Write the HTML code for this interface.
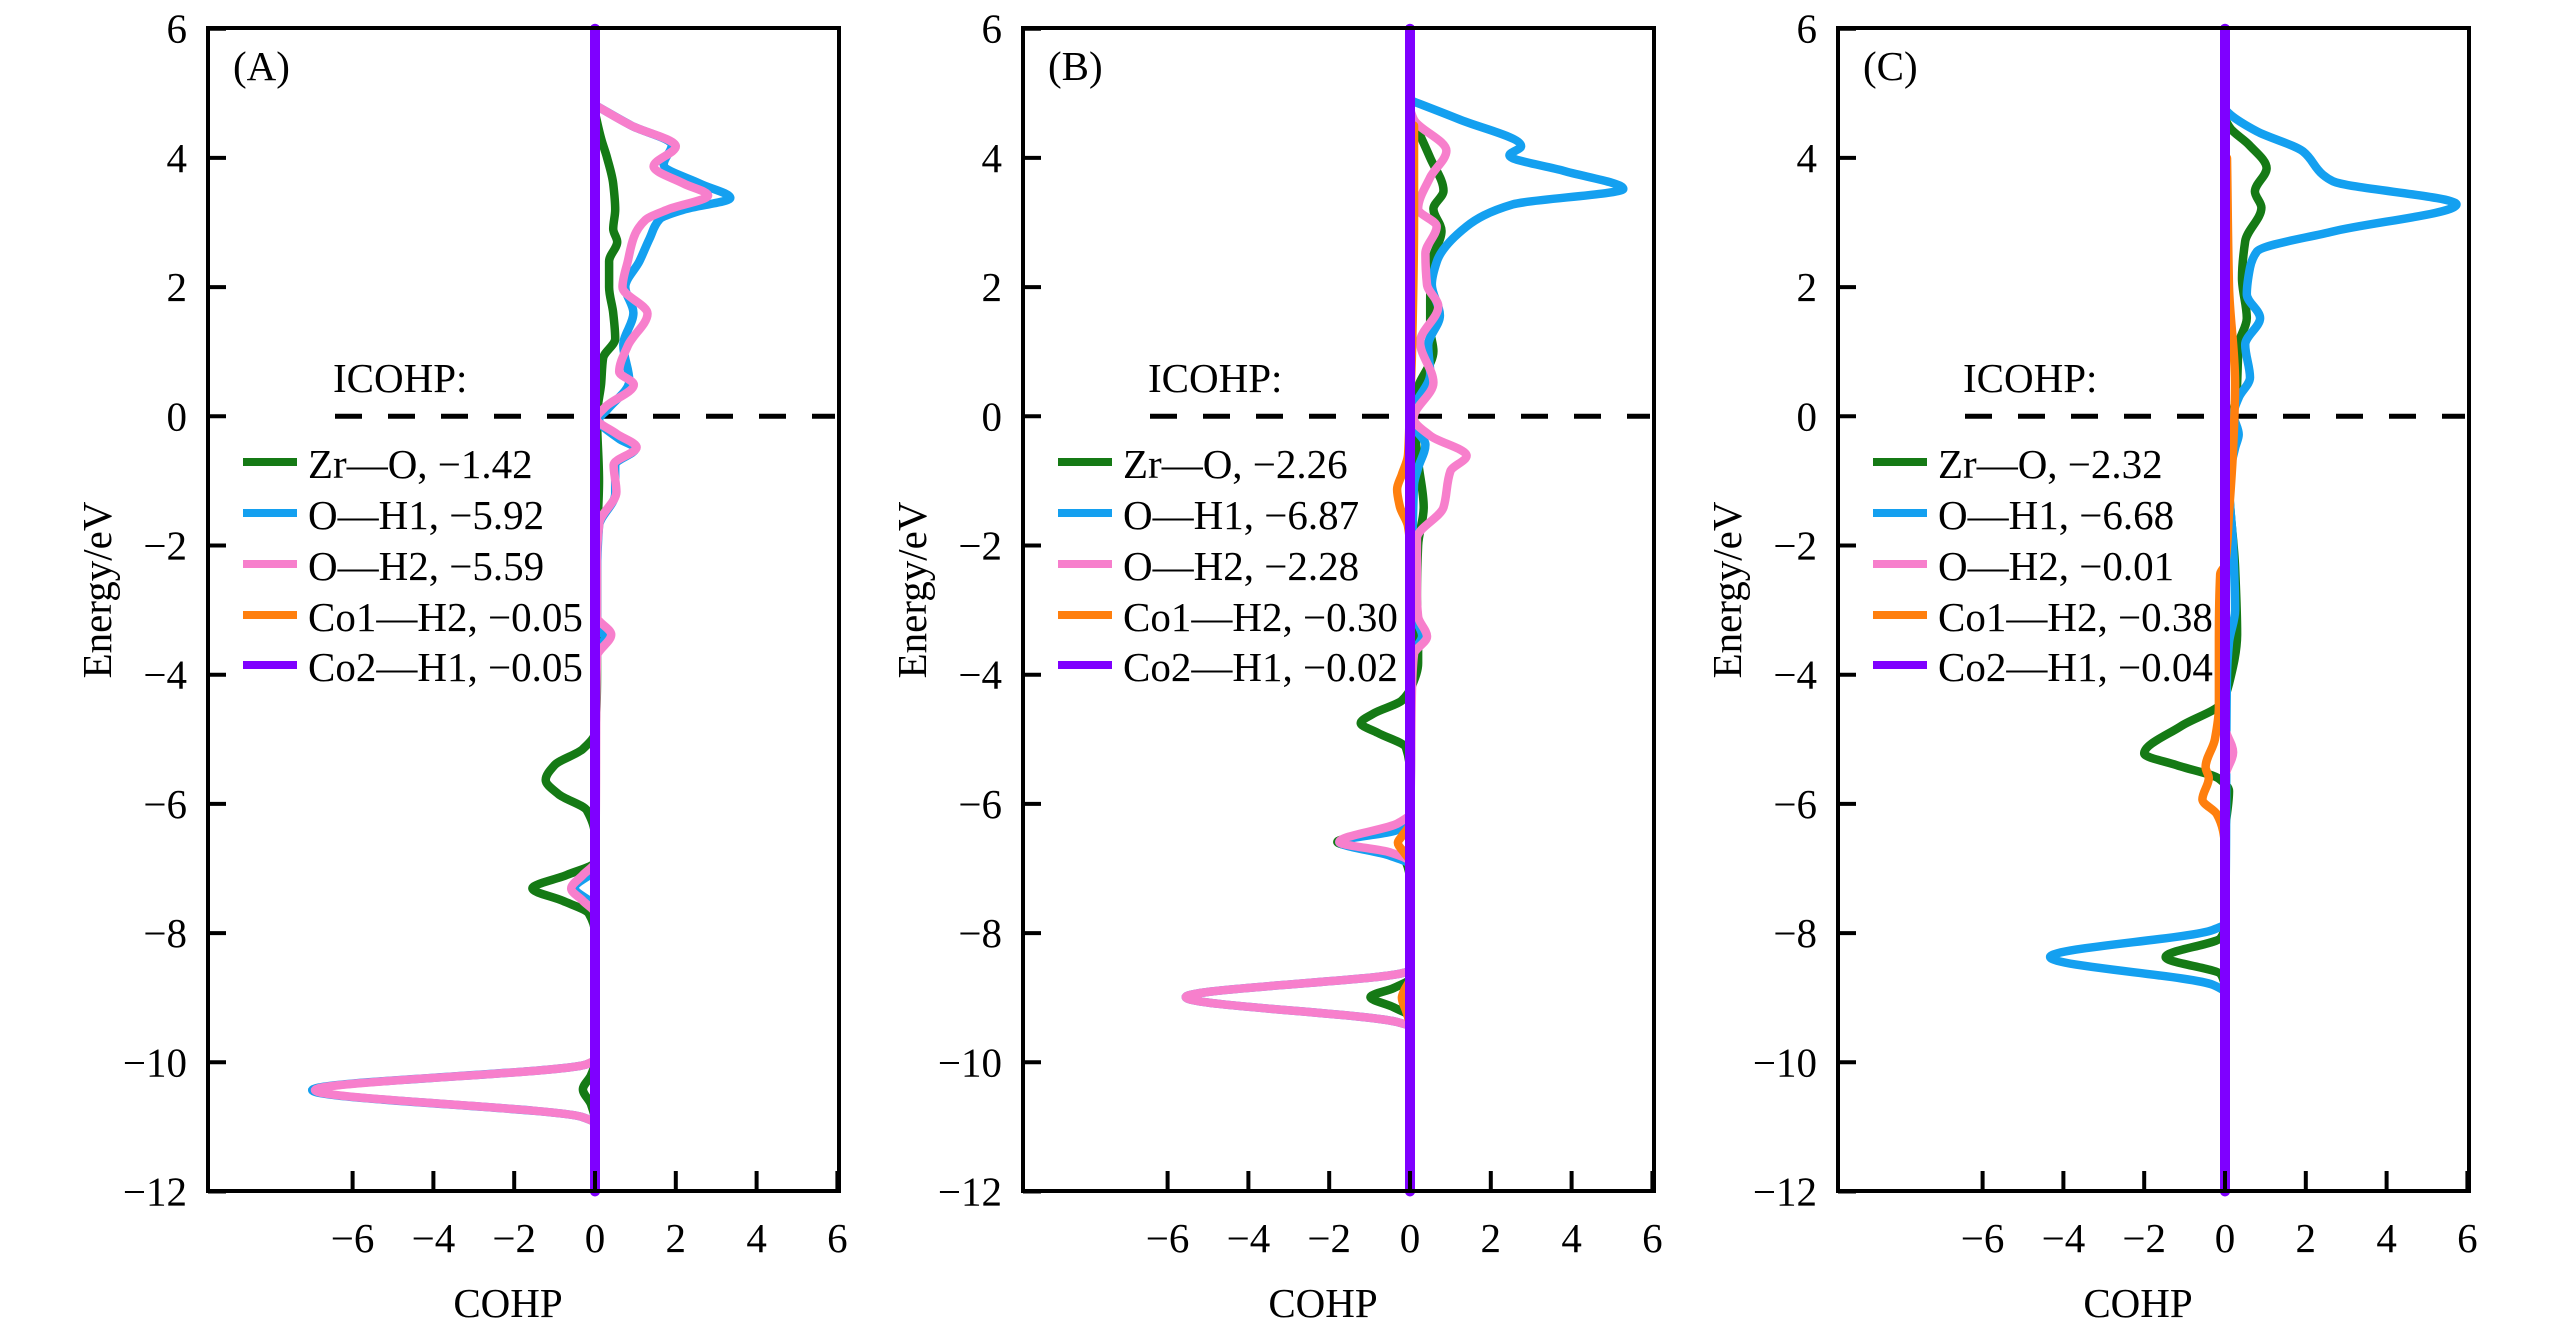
<!DOCTYPE html>
<html><head><meta charset="utf-8"><style>
html,body{margin:0;padding:0;background:#fff;}
svg{display:block;font-family:"Liberation Serif","Times New Roman",serif;}
</style></head><body>
<svg id="chart" width="2567" height="1343" viewBox="0 0 2567 1343" xmlns="http://www.w3.org/2000/svg"></svg>
<script>
// ---------- data ----------
const panelLabels = ["(A)", "(B)", "(C)"];
const seriesNames = ["Zr\u2014O", "O\u2014H1", "O\u2014H2", "Co1\u2014H2", "Co2\u2014H1"];
const icohpA = ["\u22121.42", "\u22125.92", "\u22125.59", "\u22120.05", "\u22120.05"];
const icohpB = ["\u22122.26", "\u22126.87", "\u22122.28", "\u22120.30", "\u22120.02"];
const icohpC = ["\u22122.32", "\u22126.68", "\u22120.01", "\u22120.38", "\u22120.04"];
const yTicks = [-12, -10, -8, -6, -4, -2, 0, 2, 4, 6];
const xTicks = [-6, -4, -2, 0, 2, 4, 6];

// Panel A
const greenA_E = [4.7,4.3,4.0,3.6,3.2,2.9,2.7,2.4,2.0,1.6,1.2,0.9,0.5,0.0,-1.0,-2.0,-4.0,-4.9,-5.15,-5.4,-5.63,-5.85,-6.1,-6.5,-6.9,-7.1,-7.31,-7.5,-7.7,-8.0,-10.0,-10.2,-10.42,-10.65,-10.9,-11.5];
const greenA_V = [0,0.15,0.3,0.45,0.5,0.45,0.55,0.35,0.35,0.45,0.5,0.2,0.15,0.05,0.1,0.05,0.05,0,-0.3,-1.0,-1.22,-0.9,-0.2,0,0,-0.7,-1.55,-0.8,-0.15,0,0,-0.1,-0.3,-0.1,0,0];
const blueA_E = [4.8,4.5,4.2,3.9,3.6,3.38,3.2,3.05,2.75,2.4,2.0,1.6,1.1,0.55,0.1,-0.05,-0.35,-0.5,-0.75,-1.2,-1.7,-2.5,-3.3,-3.4,-3.7,-4.5,-7.0,-7.3,-7.6,-9.95,-10.03,-10.43,-10.85,-10.95,-11.5];
const blueA_V = [0.05,0.9,1.9,1.7,2.6,3.35,2.2,1.6,1.35,1.1,0.75,0.95,0.7,0.85,0.3,0.1,0.6,1.0,0.5,0.5,0.1,0.05,0.05,0.25,0.05,0,0,-0.5,0,0,-0.2,-7.0,-0.3,0,0];
const pinkA_E = [4.8,4.5,4.18,3.87,3.6,3.42,3.2,3.04,2.77,2.42,2.0,1.59,1.1,0.69,0.49,0.14,-0.03,-0.27,-0.48,-0.75,-1.17,-1.65,-2.2,-3.1,-3.38,-3.72,-6.9,-7.1,-7.31,-7.5,-7.7,-9.95,-10.03,-10.43,-10.85,-10.95,-11.5];
const pinkA_V = [0.05,0.9,2.0,1.45,2.2,2.8,1.8,1.25,0.96,0.82,0.68,1.3,0.82,0.6,0.96,0.25,0.04,0.53,1.03,0.46,0.53,0.11,0.05,0.05,0.4,0.05,0,-0.3,-0.59,-0.3,0,0,-0.2,-6.93,-0.3,0,0];
const orangeA_E = [6,-12];
const orangeA_V = [0,0];
const purpleA_E = [6,-12];
const purpleA_V = [0,0];

// Panel B
const greenB_E = [4.7,4.46,4.0,3.49,3.21,2.87,2.39,1.8,1.35,1.01,0.39,0.0,-0.7,-1.41,-2.0,-2.79,-3.4,-3.82,-4.17,-4.4,-4.6,-4.75,-4.9,-5.13,-5.5,-6.2,-6.4,-6.59,-6.75,-6.9,-7.2,-8.7,-8.85,-8.99,-9.15,-9.3,-9.6];
const greenB_V = [0,0.17,0.5,0.83,0.58,0.78,0.54,0.5,0.5,0.58,0.17,0.1,0.2,0.34,0.2,0.17,0.2,0.2,0.05,-0.2,-0.9,-1.22,-0.8,-0.1,0,0,-0.5,-1.8,-0.6,-0.1,0,0,-0.4,-0.98,-0.4,0,0];
const blueB_E = [4.87,4.6,4.18,4.04,3.8,3.52,3.28,2.94,2.39,2.04,1.56,1.1,0.66,0.11,-0.1,-0.44,-0.8,-1.06,-3.0,-3.4,-3.7,-6.2,-6.4,-6.59,-6.8,-6.95,-8.58,-8.62,-8.99,-9.38,-9.45,-10];
const blueB_V = [0.1,1.2,2.75,2.46,3.8,5.28,2.54,1.4,0.66,0.54,0.74,0.45,0.5,0.09,0.05,0.38,0.2,0.1,0.05,0.3,0.05,0,-0.3,-1.75,-0.5,0,0,-0.2,-5.55,-0.3,0,0];
const pinkB_E = [4.75,4.59,4.11,3.7,3.21,2.94,2.52,2.04,1.7,1.15,0.52,-0.03,-0.3,-0.61,-0.85,-1.41,-1.89,-2.79,-3.1,-3.41,-3.68,-4.2,-6.15,-6.3,-6.59,-6.75,-6.9,-8.58,-8.62,-8.99,-9.38,-9.45,-10];
const pinkB_V = [0,0.1,0.9,0.5,0.2,0.66,0.38,0.42,0.7,0.25,0.58,0.09,0.5,1.4,1.0,0.83,0.17,0.17,0.2,0.42,0.1,0.05,0,-0.3,-1.75,-0.5,0,0,-0.2,-5.55,-0.3,0,0];
const orangeB_E = [4.5,3,1,0.2,-0.6,-0.9,-1.13,-1.4,-1.7,-2,-6.3,-6.5,-6.6,-6.75,-6.9,-8.7,-8.9,-9.0,-9.2,-9.4];
const orangeB_V = [0.1,0.1,0.05,0,-0.05,-0.2,-0.32,-0.25,-0.05,0,0,-0.2,-0.3,-0.15,0,0,-0.15,-0.2,-0.1,0];
const purpleB_E = [6,-12];
const purpleB_V = [0,0];

// Panel C
const greenC_E = [4.6,4.46,4.2,3.84,3.48,3.23,2.71,2.14,1.52,1.11,0.39,0.03,-1,-2.34,-3.37,-4.14,-4.45,-4.8,-5.22,-5.4,-5.61,-5.8,-6.5,-7.9,-8.07,-8.37,-8.64,-8.8];
const greenC_V = [0,0.13,0.6,1.03,0.74,0.9,0.5,0.42,0.54,0.34,0.29,0.2,0.1,0.25,0.3,0.1,-0.1,-1.1,-2.0,-1.2,-0.15,0.1,0,0,-0.1,-1.47,-0.1,0];
const blueC_E = [4.75,4.67,4.41,4.1,3.74,3.64,3.28,2.86,2.55,2.3,1.89,1.52,1.11,0.6,0.29,0.03,-0.28,-0.49,-1.0,-2.0,-3.0,-3.5,-4.0,-7.85,-7.95,-8.37,-8.8,-8.9];
const blueC_V = [0,0.13,0.79,1.93,2.42,2.67,5.73,2.67,0.79,0.62,0.54,0.87,0.5,0.62,0.34,0.21,0.34,0.25,0.1,0.2,0.25,0.1,0.05,0,-0.3,-4.33,-0.3,0];
const pinkC_E = [4,0,-4.8,-5.2,-5.6,-12];
const pinkC_V = [0,0,0,0.2,0,0];
const orangeC_E = [4,2,0.5,-0.5,-1.5,-2.3,-2.44,-3.5,-4.5,-5.0,-5.43,-5.6,-5.93,-6.16,-6.41,-6.6];
const orangeC_V = [0.05,0.1,0.25,0.2,0.1,0,-0.12,-0.15,-0.15,-0.25,-0.48,-0.4,-0.56,-0.2,-0.05,0];
const purpleC_E = [6,-12];
const purpleC_V = [0,0];

// ---------- drawing ----------
const NS = "http://www.w3.org/2000/svg";
const svg = document.getElementById("chart");
const colors = ["#157a15", "#14a0f0", "#f77fcc", "#ff7f0e", "#7f00ff"];
const widths = [8.5, 8.5, 8.5, 8.5, 10];
const panelOffsets = [0, 815, 1630];
const AX_L = 208, AX_R = 839, AX_T = 28, AX_B = 1191, ZERO_X = 595, XU = 40.4, Y0 = 416.3, YU = 64.6;

function mk(tag, attrs, parent) {
  const e = document.createElementNS(NS, tag);
  for (const k in attrs) e.setAttribute(k, attrs[k]);
  (parent || svg).appendChild(e);
  return e;
}
function yS(E) { return Y0 - E * YU; }

// monotone cubic (Fritsch-Carlson) in E -> V, returns SVG path
function monotonePath(E, V, xS) {
  const n = E.length;
  const f = (e, v) => xS(v).toFixed(1) + "," + yS(e).toFixed(1);
  if (n < 3) return "M" + f(E[0], V[0]) + "L" + f(E[n - 1], V[n - 1]);
  const h = [], d = [];
  for (let i = 0; i < n - 1; i++) { h.push(E[i + 1] - E[i]); d.push((V[i + 1] - V[i]) / h[i]); }
  const m = new Array(n);
  m[0] = d[0]; m[n - 1] = d[n - 2];
  for (let i = 1; i < n - 1; i++) {
    if (d[i - 1] * d[i] <= 0) m[i] = 0;
    else {
      const w1 = 2 * h[i] + h[i - 1], w2 = h[i] + 2 * h[i - 1];
      m[i] = (w1 + w2) / (w1 / d[i - 1] + w2 / d[i]);
    }
  }
  let p = "M" + f(E[0], V[0]);
  for (let i = 0; i < n - 1; i++) {
    const hh = h[i];
    p += "C" + f(E[i] + hh / 3, V[i] + m[i] * hh / 3) + " " + f(E[i + 1] - hh / 3, V[i + 1] - m[i + 1] * hh / 3) + " " + f(E[i + 1], V[i + 1]);
  }
  return p;
}

const panels = [
  { icohp: icohpA, series: [[greenA_E, greenA_V], [blueA_E, blueA_V], [pinkA_E, pinkA_V], [orangeA_E, orangeA_V], [purpleA_E, purpleA_V]] },
  { icohp: icohpB, series: [[greenB_E, greenB_V], [blueB_E, blueB_V], [pinkB_E, pinkB_V], [orangeB_E, orangeB_V], [purpleB_E, purpleB_V]] },
  { icohp: icohpC, series: [[greenC_E, greenC_V], [blueC_E, blueC_V], [pinkC_E, pinkC_V], [orangeC_E, orangeC_V], [purpleC_E, purpleC_V]] }
];
const seriesKeys = ["zr-o", "o-h1", "o-h2", "co1-h2", "co2-h1"];
const panelKeys = ["a", "b", "c"];

panels.forEach((p, pi) => {
  const dx = panelOffsets[pi];
  const xS = v => ZERO_X + dx + v * XU;
  const g = mk("g", {});
  
  

  const dl = mk("line", { x1: 335 + dx, x2: 835 + dx, y1: yS(0), y2: yS(0), stroke: "#000", "stroke-width": 5, "stroke-dasharray": "27 26" }, g);
  
  

  p.series.forEach((s, si) => {
    const path = mk("path", { d: monotonePath(s[0], s[1], xS), fill: "none", stroke: colors[si], "stroke-width": widths[si], "stroke-linejoin": "round", "stroke-linecap": "round" }, g);
    
    
  });

  const fr = mk("rect", { x: AX_L + dx, y: AX_T, width: AX_R - AX_L, height: AX_B - AX_T, fill: "none", stroke: "#000", "stroke-width": 4 }, g);
  
  

  yTicks.forEach(t => {
    const y = yS(t);
    const tl = mk("line", { x1: AX_L + dx, x2: AX_L + dx + 18, y1: y, y2: y, stroke: "#000", "stroke-width": 4 }, g);
    
    
    const tx = mk("text", { x: AX_L + dx - 21, y: y + 14, "font-size": 41, "text-anchor": "end" }, g);
    tx.textContent = t < 0 ? "\u2212" + Math.abs(t) : String(t);
    
    
  });
  xTicks.forEach(t => {
    const x = xS(t);
    const tl = mk("line", { x1: x, x2: x, y1: AX_B, y2: AX_B - 20, stroke: "#000", "stroke-width": 4 }, g);
    
    
    const tx = mk("text", { x: x, y: 1252, "font-size": 41, "text-anchor": "middle" }, g);
    tx.textContent = t < 0 ? "\u2212" + Math.abs(t) : String(t);
    
    
  });

  const pl = mk("text", { x: 233 + dx, y: 80, "font-size": 41 }, g);
  pl.textContent = panelLabels[pi];
  
  

  const xt = mk("text", { x: 508 + dx, y: 1317, "font-size": 41, "text-anchor": "middle" }, g);
  xt.textContent = "COHP";
  
  

  const yt = mk("text", { x: 0, y: 0, "font-size": 41, "text-anchor": "middle", transform: "translate(" + (111 + dx) + ",590) rotate(-90)" }, g);
  yt.textContent = "Energy/eV";
  
  

  const ic = mk("text", { x: 333 + dx, y: 392, "font-size": 41 }, g);
  ic.textContent = "ICOHP:";
  
  

  const rows = [462, 513, 564, 615, 665];
  seriesNames.forEach((n, si) => {
    const lg = mk("g", {}, g);
    
    
    mk("line", { x1: 243 + dx, x2: 297 + dx, y1: rows[si], y2: rows[si], stroke: colors[si], "stroke-width": 8 }, lg);
    const lt = mk("text", { x: 308 + dx, y: rows[si] + 16, "font-size": 41 }, lg);
    lt.textContent = n + ", " + p.icohp[si];
  });
});
</script>
</body></html>
